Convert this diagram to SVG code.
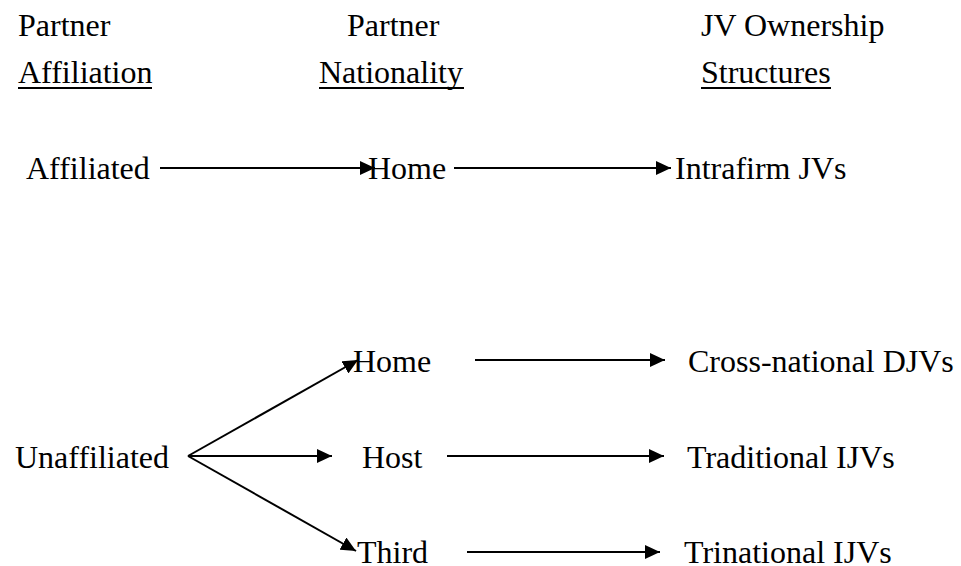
<svg xmlns="http://www.w3.org/2000/svg" width="961" height="566" viewBox="0 0 961 566">
<style>
  text { font-family: "Liberation Serif", "Times New Roman", serif; font-size: 32px; fill: #000; }
  .ul { stroke: #000; stroke-width: 2; }
  .conn { stroke: #000; stroke-width: 2; fill: none; marker-end: url(#arrow); }
</style>
<defs>
  <marker id="arrow" markerUnits="userSpaceOnUse" markerWidth="16" markerHeight="14" refX="15" refY="7" orient="auto">
    <path d="M0,0 L15,7 L0,14 z" fill="#000"/>
  </marker>
</defs>
<rect width="961" height="566" fill="#fff"/>
<g id="headers">
  <g id="h-affiliation">
    <text x="18" y="36">Partner</text>
    <text x="18" y="83">Affiliation</text>
    <line class="ul" x1="18" y1="88" x2="152" y2="88"/>
  </g>
  <g id="h-nationality">
    <text x="347" y="36">Partner</text>
    <text x="319" y="83">Nationality</text>
    <line class="ul" x1="319" y1="88" x2="464" y2="88"/>
  </g>
  <g id="h-structures">
    <text x="701" y="36">JV Ownership</text>
    <text x="701" y="83">Structures</text>
    <line class="ul" x1="701" y1="88" x2="831" y2="88"/>
  </g>
</g>
<g id="connectors">
  <line class="conn" x1="160" y1="168" x2="375" y2="168"/>
  <line class="conn" x1="454" y1="168" x2="671" y2="168"/>
  <line class="conn" x1="188" y1="456" x2="358" y2="360"/>
  <line class="conn" x1="188" y1="456" x2="332" y2="456"/>
  <line class="conn" x1="188" y1="456" x2="356" y2="551"/>
  <line class="conn" x1="475" y1="360" x2="665" y2="360"/>
  <line class="conn" x1="447" y1="456" x2="664" y2="456"/>
  <line class="conn" x1="467" y1="552" x2="660" y2="552"/>
</g>
<g id="n-affiliated"><text x="26" y="179">Affiliated</text></g>
<g id="n-home1"><text x="368" y="179">Home</text></g>
<g id="n-intrafirm"><text x="675" y="179">Intrafirm JVs</text></g>
<g id="n-home2"><text x="353" y="372">Home</text></g>
<g id="n-crossnational"><text x="688" y="372">Cross-national DJVs</text></g>
<g id="n-unaffiliated"><text x="15" y="468">Unaffiliated</text></g>
<g id="n-host"><text x="362" y="468">Host</text></g>
<g id="n-traditional"><text x="687" y="468">Traditional IJVs</text></g>
<g id="n-third"><text x="357" y="563">Third</text></g>
<g id="n-trinational"><text x="684" y="563">Trinational IJVs</text></g>
</svg>
